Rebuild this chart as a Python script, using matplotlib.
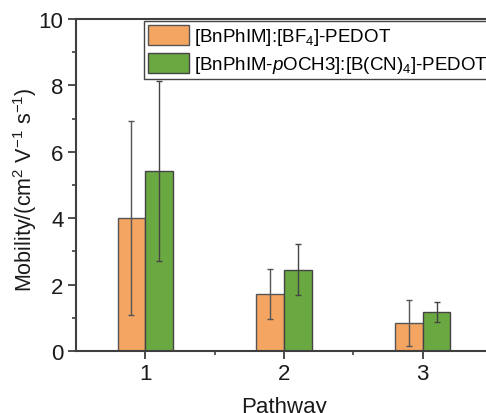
import numpy as np
import matplotlib
matplotlib.use("Agg")
import matplotlib.pyplot as plt
from matplotlib.ticker import MultipleLocator, FixedLocator

plt.rcParams["font.family"] = ["Liberation Sans", "DejaVu Sans"]
plt.rcParams["mathtext.fontset"] = "custom"
plt.rcParams["mathtext.rm"] = "Liberation Sans"
plt.rcParams["mathtext.it"] = "Liberation Sans:italic"
plt.rcParams["mathtext.default"] = "regular"

# data
pathways = [1, 2, 3]
bf4_mean = [4.01, 1.72, 0.85]
bf4_err = [2.92, 0.75, 0.70]
bcn_mean = [5.42, 2.45, 1.18]
bcn_err = [2.70, 0.77, 0.30]
labels = ["[BnPhIM]:[BF$_4$]-PEDOT",
          "[BnPhIM-$\\it{p}$OCH3]:[B(CN)$_4$]-PEDOT"]

axcol = "#3f3f3f"
fig = plt.figure(figsize=(4.86, 4.14), dpi=100)
ax = fig.add_axes([76/486, 62/414, 416/486, 332/414])

x = np.array(pathways)
w = 0.2
ax.bar(x - w/2, bf4_mean, w, color="#f4a562", edgecolor="#555555", linewidth=1,
       yerr=bf4_err, error_kw=dict(ecolor="#555555", elinewidth=1, capsize=2.3, capthick=1),
       label=labels[0])
ax.bar(x + w/2, bcn_mean, w, color="#6aa842", edgecolor="#444444", linewidth=1,
       yerr=bcn_err, error_kw=dict(ecolor="#444444", elinewidth=1, capsize=2.3, capthick=1),
       label=labels[1])

ax.set_xlim(0.5, 3.5)
ax.set_ylim(0, 10)
ax.set_xticks(pathways)
ax.xaxis.set_minor_locator(FixedLocator([1.5, 2.5]))
ax.yaxis.set_major_locator(MultipleLocator(2))
ax.yaxis.set_minor_locator(MultipleLocator(1))
ax.tick_params(axis="both", which="major", direction="out", length=6, width=1.3,
               colors=axcol, labelcolor="#1a1a1a", labelsize=16, pad=3)
ax.tick_params(axis="both", which="minor", direction="out", length=3, width=1.2, colors=axcol)
for s in ax.spines.values():
    s.set_color(axcol)
    s.set_linewidth(1.5)

ax.set_xlabel("Pathway", fontsize=16, color="#1a1a1a", labelpad=8)
ax.set_ylabel("Mobility/(cm$^2$ V$^{-1}$ s$^{-1}$)", fontsize=15.5, color="#1a1a1a")
ax.yaxis.set_label_coords(-0.088, 0.488)

leg = ax.legend(loc="upper left", bbox_to_anchor=((144-76)/416, (352-22)/332),
                borderaxespad=0, fontsize=13.5, fancybox=False, framealpha=1,
                edgecolor="#444444", handlelength=2.2, handleheight=1.3,
                handletextpad=0.26, labelspacing=0.3, borderpad=0.2)
leg.get_frame().set_linewidth(1)

fig.savefig("out.png", dpi=100)
